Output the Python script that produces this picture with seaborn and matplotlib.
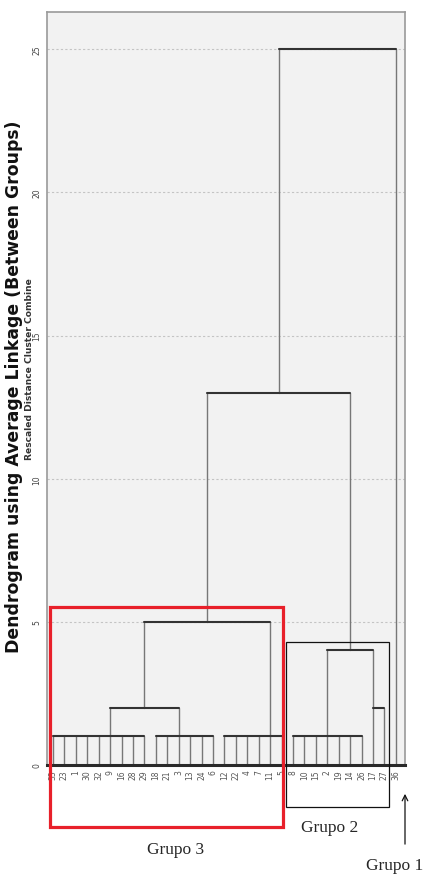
import numpy as np
import pandas as pd
import matplotlib
matplotlib.use("Agg")
from matplotlib import pyplot as plt
from matplotlib.patches import Rectangle
import seaborn as sns

# hojas de cada grupo (orden de izquierda a derecha)
a1_leaves = ['33', '23', '1', '30', '32', '9', '16', '28', '29']
a2_leaves = ['18', '21', '3', '13', '24', '6']
b_leaves = ['12', '22', '4', '7', '11', '5']
g2a_leaves = ['8', '10', '15', '2', '19', '14', '26']
g2b_leaves = ['17', '27']
g1_leaves = ['36']

# alturas de fusion (distancia reescalada 0-25)
flat_heights = {'a1': 1.0, 'a2': 1.0, 'b': 1.0, 'g2a': 1.0, 'g2b': 2.0}
flat_anchor = {'a1': 5, 'a2': 2, 'b': 4, 'g2a': 3, 'g2b': 0}
merge_a = 2.0
merge_g3 = 5.0
merge_g2 = 4.0
merge_n = 13.0
merge_root = 25.0

y_ticks = [0, 5, 10, 15, 20, 25]

leaf_order = a1_leaves + a2_leaves + b_leaves + g2a_leaves + g2b_leaves + g1_leaves
pos = {lab: i for i, lab in enumerate(leaf_order)}

segs = []


def add_seg(x0, y0, x1, y1, kind):
    k = len(segs)
    segs.append({'seg': k, 'x': x0, 'y': y0, 'kind': kind})
    segs.append({'seg': k, 'x': x1, 'y': y1, 'kind': kind})


def flat(labels, key):
    h = flat_heights[key]
    xs = [pos[l] for l in labels]
    for x in xs:
        add_seg(x, 0, x, h, 'v')
    add_seg(xs[0], h, xs[-1], h, 'h')
    return xs[flat_anchor[key]], h


def merge(left, right, h):
    (xl, hl), (xr, hr) = left, right
    add_seg(xl, hl, xl, h, 'v')
    add_seg(xr, hr, xr, h, 'v')
    add_seg(xl, h, xr, h, 'h')
    return (xl + xr) / 2, h


node_a = merge(flat(a1_leaves, 'a1'), flat(a2_leaves, 'a2'), merge_a)
node_g3 = merge(node_a, flat(b_leaves, 'b'), merge_g3)
node_g2 = merge(flat(g2a_leaves, 'g2a'), flat(g2b_leaves, 'g2b'), merge_g2)
node_n = merge(node_g3, node_g2, merge_n)
merge(node_n, (pos[g1_leaves[0]], 0.0), merge_root)

seg_df = pd.DataFrame(segs)

sns.set_style("white")
plt.rcParams['font.family'] = ['DejaVu Sans']

fig = plt.figure(figsize=(4.4, 8.78), dpi=100)
ax = fig.add_axes([47 / 440, 1 - 766 / 878, 358 / 440, 753 / 878])
ax.set_facecolor('#f2f2f2')

# lineas del dendrograma
sns.lineplot(data=seg_df, x='x', y='y', units='seg', estimator=None, sort=False,
             hue='kind', palette={'v': '#777777', 'h': '#333333'},
             size='kind', sizes={'v': 1.0, 'h': 1.5}, legend=False, ax=ax)

ax.set_xlim(-0.52, 30.8)
ax.set_ylim(0, 26.3)

# rejilla punteada
for t in y_ticks[1:]:
    ax.axhline(t, color='#c4c4c4', linestyle=(0, (2, 2)), linewidth=0.8, zorder=0)

ax.set_yticks(y_ticks)
ax.set_yticklabels([str(t) for t in y_ticks], rotation=90, fontsize=5.5,
                   color='#444444', va='center')
ax.set_xticks(range(len(leaf_order)))
ax.set_xticklabels(leaf_order, rotation=90, fontsize=5.5, color='#555555')
ax.tick_params(axis='y', length=3, width=1.5, color='#333333', pad=1)
ax.tick_params(axis='x', length=0, pad=3)
ax.set_xlabel('')
ax.set_ylabel('')

for side in ['left', 'top', 'right']:
    ax.spines[side].set_color('#9a9a9a')
    ax.spines[side].set_linewidth(1.2)
ax.spines['bottom'].set_color('#2a2a2a')
ax.spines['bottom'].set_linewidth(2.2)

# titulos del eje
fig.text(14 / 440, 1 - 387 / 878, 'Dendrogram using Average Linkage (Between Groups)',
         rotation=90, ha='center', va='center', fontsize=12.4, fontweight='bold',
         color='#111111')
fig.text(29.5 / 440, 1 - 369 / 878, 'Rescaled Distance Cluster Combine',
         rotation=90, ha='center', va='center', fontsize=6.6, fontweight='bold',
         color='#333333')

# recuadros de los grupos
g3_first, g3_last = pos[a1_leaves[0]], pos[b_leaves[-1]]
g2_first, g2_last = pos[g2a_leaves[0]], pos[g2b_leaves[-1]]
ax.add_patch(Rectangle((g3_first - 0.3, -2.16), g3_last - g3_first + 0.4, merge_g3 + 0.52 + 2.16,
                       fill=False, edgecolor='#e8202a', linewidth=2.3, clip_on=False, zorder=5))
ax.add_patch(Rectangle((g2_first - 0.6, -1.47), g2_last - g2_first + 1.0, merge_g2 + 0.29 + 1.47,
                       fill=False, edgecolor='#111111', linewidth=0.9, clip_on=False, zorder=5))

serif = ['Liberation Serif', 'DejaVu Serif']
ax.text(10.7, -2.93, 'Grupo 3', ha='center', va='center', fontsize=12.5,
        family=serif, clip_on=False)
ax.text(24.2, -2.16, 'Grupo 2', ha='center', va='center', fontsize=12.5,
        family=serif, clip_on=False)
ax.text(29.9, -3.49, 'Grupo 1', ha='center', va='center', fontsize=12.5,
        family=serif, clip_on=False)
ax.annotate('', xy=(pos[g1_leaves[0]] + 0.8, -0.91), xytext=(pos[g1_leaves[0]] + 0.8, -2.86),
            arrowprops=dict(arrowstyle='->', color='#111111', linewidth=0.9),
            annotation_clip=False)

fig.savefig('out.png', dpi=100)
plt.close(fig)
